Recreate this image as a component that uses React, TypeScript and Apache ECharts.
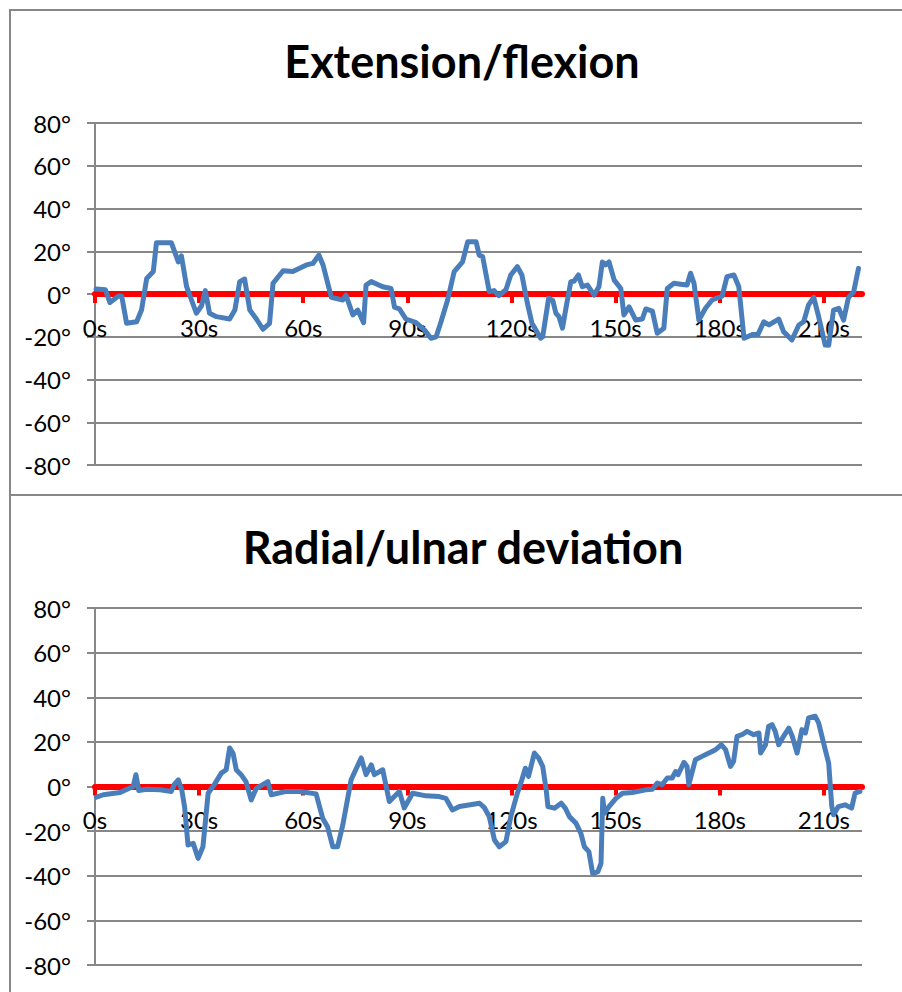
import React, { useEffect, useRef } from "react";
import * as echarts from "echarts";

// Wrist angle over time (seconds, degrees)
const extTimes = [
  0.3, 3, 4.3, 6.7, 7.7, 9.1, 12, 13.4, 14.9, 16.8, 17.7, 22, 24, 24.9, 26.4, 29.2, 30.7, 31.8, 33, 35,
  38.8, 40.3, 41.7, 43.1, 44.6, 46.5, 48.4, 50.3, 51.3, 54.2, 57, 60.9, 62.8, 64.5, 65.7, 68.1, 71.4, 72.3,
  74.3, 75.7, 77.4, 78.1, 79.6, 82.9, 85.3, 86.3, 87.7, 89.6, 92.5, 94.9, 96.8, 98.3, 99.7, 101.6, 103.5,
  105.9, 107.4, 109.8, 110.7, 111.7, 113.6, 115, 116.3, 118.4, 119.8, 121.7, 123, 124.6, 125.9, 128.4, 129,
  130.7, 131.9, 132.8, 133.7, 134.7, 135.6, 137.1, 138, 139.3, 140.4, 141.9, 143.8, 145.2, 146.2, 147.1,
  148.1, 149.6, 151.5, 152.4, 153.9, 155.8, 157.7, 158.7, 160.6, 162, 163.9, 164.9, 166.8, 168.7, 170.6,
  171.6, 172.6, 174, 175.9, 177.8, 180.7, 182.1, 184.1, 185.5, 187, 189.4, 191, 192.7, 194.2, 197, 198.4,
  200.8, 202.8, 204.2, 205.6, 207.1, 208.5, 210.4, 211.4, 212.8, 214.3, 215.7, 217.1, 218.6, 220,
];
const extValues = [
  2.3, 2, -4, -1, -1, -13.7, -13, -7.5, 7.3, 10.5, 24, 24, 15, 17.8, 3.4, -9, -5.5, 1.6, -9, -10.6,
  -11.7, -7.5, 5.8, 7, -7.5, -11.7, -16.5, -13.7, 5, 10.9, 10.5, 13.6, 14.3, 18.2, 13.6, -1.6, -2.8, -0.5,
  -9.8, -7.5, -13.4, 4.2, 5.8, 3.4, 2.6, -6.2, -7, -11.7, -13.4, -16.8, -20.7, -20, -13, -2.8, 10.5,
  15, 24.5, 24.5, 18.2, 17.5, 1.1, 1.6, -0.8, 2, 8.9, 12.8, 8.9, -4.4, -13.7, -20.7, -20,
  -2, -3, -9, -10.6, -16, -7.5, 5.8, 6, 8.9, 3.4, 4.2, -0.5, 3.4, 15, 13.6,
  15, 6.5, 2.6, -9.8, -6, -12.2, -11.7, -7, -8, -18.4, -16, 2.6, 5, 4.6, 4.2,
  9.7, 5, -12.2, -6.7, -2.8, -1, 8.1, 8.9, 3.4, -20.7, -19, -19, -13, -14.5, -11.7, -17.6,
  -21.5, -14.5, -13, -5.1, -1.6, -10.6, -23.9, -24, -7.5, -6.7, -12.2, -1.6, 1, 12,
];

const devTimes = [
  0.4, 2.4, 7.2, 11, 11.8, 12.6, 14.9, 18.7, 22, 22.8, 24, 25, 25.8, 26.8, 28.3, 29.7, 31.1, 32.6, 34.5,
  36.4, 37.8, 38.8, 39.8, 40.7, 42.1, 43.5, 45, 46.5, 49.8, 50.8, 55.1, 58.9, 63.7, 65.6, 67, 68.5, 69.9,
  71.4, 73.8, 76.7, 78.1, 79.6, 80.5, 82.9, 84.8, 87.7, 89.1, 91.5, 95.4, 99.2, 101.1, 103, 105, 110.8,
  112.2, 113.6, 115.1, 116.5, 118.4, 119.8, 121.7, 123, 124, 124.9, 126.6, 127.8, 129, 130, 130.5, 132.4,
  134.3, 135.5, 136.7, 138.6, 140, 141, 142.3, 143.4, 144.9, 145.8, 146.3, 146.8, 148.1, 150.1, 152,
  154.8, 158.7, 160.6, 162, 163.4, 164.9, 166.3, 167.3, 168, 169.7, 170.6, 171.1, 173, 174.9, 176.9,
  178.8, 180.5, 181.7, 183.1, 184, 185, 186.4, 187.9, 189.8, 191.3, 191.8, 193.2, 194.1, 195.1, 196, 197,
  198.4, 199.9, 200.9, 202.3, 203.7, 204.7, 205.6, 207.5, 208.5, 210.4, 211.4, 212.3, 212.8, 214.2,
  216.1, 218, 219, 220.4,
];
const devValues = [
  -4.8, -3.7, -2.7, 0, 5.3, -1.8, -1.2, -1.5, -2.2, 0.8, 3, -1.5, -9, -26.2, -25.5, -32.2, -27, -3, 1.2,
  6, 7.5, 17.3, 14.8, 7.5, 5.3, 2.2, -6, -0.8, 2.2, -3.7, -2.2, -2.2, -3.3, -14.2, -18, -27, -27,
  -17.2, 3, 12.8, 5.3, 9.7, 5.3, 7.5, -6.7, -2.2, -9.6, -3, -4.2, -4.5, -5.3, -10.5, -9, -7.5,
  -9.5, -13.5, -24, -27, -24.7, -13.5, -3, 3, 8.2, 4.5, 15, 12.8, 9, -1.5, -9, -9.7,
  -7.5, -9.7, -13.5, -16.5, -21, -27, -29.2, -39, -38.2, -34.5, -5.3, -12, -9, -5.3, -3,
  -2.7, -1.5, -1.2, 1.5, 0.8, 3.8, 3.8, 6.7, 5.3, 10.8, 9, 0.8, 12, 13.5, 15,
  16.5, 18.7, 16.5, 9, 11.2, 22.5, 23.2, 24.7, 23.2, 24, 15, 18.7, 27, 27.7, 24.7, 18.7,
  22.5, 26.2, 22.5, 15, 25.5, 24, 30.7, 31.5, 28.5, 16.5, 10.5, -9, -12.7, -9,
  -8.2, -9.7, -3, -2.2,
];

const timeTicks = [0, 30, 60, 90, 120, 150, 180, 210];
const titles = ["Extension/flexion", "Radial/ulnar deviation"];

const GRAY = "#878787";
const LABEL_FONT = "Lato";

const grids = [
  { left: 95, top: 123, width: 767, height: 342 },
  { left: 95, top: 608, width: 767, height: 357 },
];

function pairs(xs: number[], ys: number[]) {
  return xs.map((x, i) => [x, ys[i]]);
}

// The time axis sits on the 0° line, which is the vertical middle of the symmetric range.
function xAxisFor(gridIndex: number) {
  return {
    type: "value",
    gridIndex,
    min: 0,
    max: 221,
    offset: -grids[gridIndex].height / 2,
    axisLine: { show: true, onZero: false, lineStyle: { color: "#ff0000", width: 6 } },
    axisTick: {
      show: true,
      customValues: timeTicks,
      length: 9,
      lineStyle: { color: "#ff0000", width: 4 },
    },
    axisLabel: {
      customValues: timeTicks,
      formatter: (v: number) => `${v}s`,
      color: "#000",
      fontFamily: LABEL_FONT,
      fontSize: 24,
      margin: 21,
    },
    splitLine: { show: false },
    z: 3,
  };
}

function yAxisFor(gridIndex: number) {
  return {
    type: "value",
    gridIndex,
    min: -80,
    max: 80,
    interval: 20,
    axisLine: { show: true, lineStyle: { color: GRAY, width: 2 } },
    axisTick: { show: true, length: 8, lineStyle: { color: GRAY, width: 2 } },
    splitLine: { show: true, lineStyle: { color: GRAY, width: 2 } },
    axisLabel: {
      formatter: (v: number) => `${v}°`,
      color: "#000",
      fontFamily: LABEL_FONT,
      fontSize: 24,
      margin: 24,
    },
  };
}

export default function App() {
  const ref = useRef<HTMLDivElement>(null);

  useEffect(() => {
    if (!ref.current) return;
    const chart = echarts.init(ref.current, undefined, { renderer: "svg" });
    const lineStyle = { color: "#4a7ebb", width: 5, join: "round", cap: "round" };
    chart.setOption({
      animation: false,
      backgroundColor: "#fff",
      grid: grids,
      xAxis: [xAxisFor(0), xAxisFor(1)],
      yAxis: [yAxisFor(0), yAxisFor(1)],
      series: [
        {
          type: "line",
          xAxisIndex: 0,
          yAxisIndex: 0,
          data: pairs(extTimes, extValues),
          showSymbol: false,
          lineStyle,
          z: 5,
        },
        {
          type: "line",
          xAxisIndex: 1,
          yAxisIndex: 1,
          data: pairs(devTimes, devValues),
          showSymbol: false,
          lineStyle,
          z: 5,
        },
      ],
      graphic: [
        {
          type: "rect",
          shape: { x: 10, y: 10, width: 900, height: 485 },
          style: { fill: "none", stroke: GRAY, lineWidth: 2 },
          silent: true,
        },
        {
          type: "rect",
          shape: { x: 10, y: 495, width: 900, height: 520 },
          style: { fill: "none", stroke: GRAY, lineWidth: 2 },
          silent: true,
        },
        {
          type: "text",
          x: 462,
          y: 61,
          style: {
            text: titles[0],
            fill: "#000",
            font: `bold 45px ${LABEL_FONT}`,
            textAlign: "center",
            textVerticalAlign: "middle",
          },
        },
        {
          type: "text",
          x: 463,
          y: 547,
          style: {
            text: titles[1],
            fill: "#000",
            font: `bold 45px ${LABEL_FONT}`,
            textAlign: "center",
            textVerticalAlign: "middle",
          },
        },
      ],
    });
    return () => chart.dispose();
  }, []);

  return (
    <div
      ref={ref}
      style={{ position: "fixed", left: 0, top: 0, width: 902, height: 992, background: "#fff" }}
    />
  );
}
